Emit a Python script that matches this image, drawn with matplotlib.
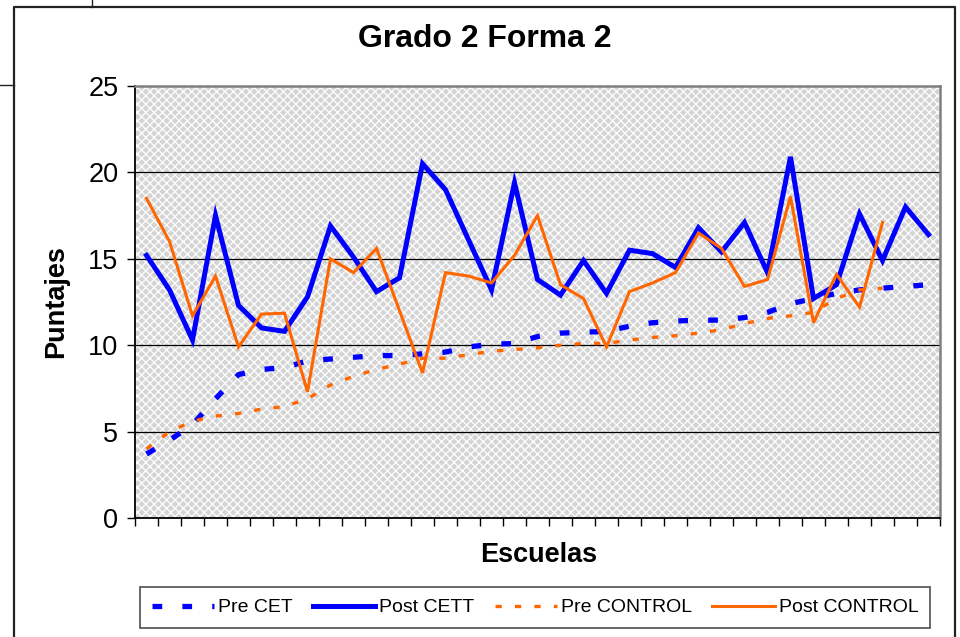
import matplotlib
matplotlib.use("Agg")
import matplotlib.pyplot as plt
from matplotlib.patches import Rectangle
from matplotlib.lines import Line2D
import numpy as np

plt.rcParams['font.family'] = ['Liberation Sans', 'DejaVu Sans']
plt.rcParams['lines.scale_dashes'] = False
plt.rcParams['hatch.color'] = 'white'
plt.rcParams['hatch.linewidth'] = 0.9

title = "Grado 2 Forma 2"
xlabel = "Escuelas"
ylabel = "Puntajes"
series_names = ["Pre CET", "Post CETT", "Pre CONTROL", "Post CONTROL"]

pre_cet = [3.7, 4.5, 5.4, 6.9, 8.3, 8.6, 8.7, 9.1, 9.2, 9.3, 9.4, 9.4, 9.5, 9.6, 9.9,
           10.05, 10.1, 10.5, 10.7, 10.75, 10.8, 11.1, 11.3, 11.4, 11.45, 11.45, 11.6,
           11.9, 12.4, 12.7, 13.0, 13.2, 13.3, 13.4, 13.5]
post_cett = [15.2, 13.2, 10.3, 17.5, 12.3, 11.0, 10.8, 12.8, 16.9, 15.1, 13.1, 13.9,
             20.5, 19.0, 16.1, 13.2, 19.4, 13.8, 12.9, 14.9, 13.0, 15.5, 15.3, 14.5,
             16.8, 15.4, 17.1, 14.2, 20.9, 12.7, 13.5, 17.6, 14.9, 18.0, 16.4]
pre_control = [4.0, 5.0, 5.6, 5.9, 6.05, 6.3, 6.45, 6.9, 7.7, 8.2, 8.6, 8.9, 9.25, 9.25,
               9.45, 9.65, 9.75, 9.85, 10.0, 10.1, 10.1, 10.3, 10.45, 10.55, 10.7, 10.9,
               11.25, 11.55, 11.7, 11.9, 12.7, 13.2, 13.3]
post_control = [18.5, 16.0, 11.7, 14.0, 9.9, 11.8, 11.85, 7.3, 15.0, 14.2, 15.6, 12.0,
                8.4, 14.2, 14.0, 13.6, 15.2, 17.5, 13.5, 12.7, 9.9, 13.1, 13.6, 14.2,
                16.5, 15.6, 13.4, 13.8, 18.6, 11.3, 14.1, 12.2, 17.1]
yticks = [0, 5, 10, 15, 20, 25]

n_cat = 35
BLUE = '#0000FF'
ORANGE = '#FF6600'

fig = plt.figure(figsize=(9.6, 6.37), dpi=100)
W, H = 960, 637

def fx(px):
    return px / W

def fy(py):
    return 1 - py / H

# outer chart border and document lines
fig.add_artist(Line2D([fx(14), fx(14), fx(955), fx(955)], [fy(640), fy(7), fy(7), fy(640)],
                      transform=fig.transFigure, color='#222222', lw=1.6))
fig.add_artist(Line2D([fx(92), fx(92)], [fy(0), fy(7)], transform=fig.transFigure,
                      color='#222222', lw=1.0))
fig.add_artist(Line2D([fx(0), fx(14)], [fy(85), fy(85)], transform=fig.transFigure,
                      color='#222222', lw=1.0))

ax = fig.add_axes([fx(135), fy(518), fx(940) - fx(135), (518 - 86) / H])
ax.set_facecolor('#d4d4d4')
ax.add_patch(Rectangle((0, 0), 1, 1, transform=ax.transAxes, facecolor='#d4d4d4',
                       edgecolor='white', hatch='xxxx', lw=0, zorder=0))

x_all = np.arange(n_cat) + 0.5
x_pre = x_all[:len(pre_cet)]
x_post = x_all[:len(post_cett)]
x_pc = x_all[:len(pre_control)]
x_poc = x_all[:len(post_control)]

for yv in yticks[1:-1]:
    ax.axhline(yv, color='black', lw=0.9, zorder=1)

l1, = ax.plot(x_pre, pre_cet, color=BLUE, lw=3.8, zorder=3, solid_capstyle='butt',
              dash_capstyle='butt', label=series_names[0])
l1.set_dashes([7, 14.5])
l2, = ax.plot(x_post, post_cett, color=BLUE, lw=3.6, zorder=4, label=series_names[1],
              solid_joinstyle='miter')
l3, = ax.plot(x_pc, pre_control, color=ORANGE, lw=2.4, zorder=3, label=series_names[2],
              dash_capstyle='butt')
l3.set_dashes([4.5, 9.5])
l4, = ax.plot(x_poc, post_control, color=ORANGE, lw=2.2, zorder=5, label=series_names[3],
              solid_joinstyle='miter')

ax.set_xlim(0, n_cat)
ax.set_ylim(0, 25)
ax.set_xticks(np.arange(n_cat + 1))
ax.set_xticklabels([])
ax.set_yticks(yticks)
ax.set_yticklabels([str(v) for v in yticks], fontsize=19.5)
ax.tick_params(axis='both', direction='out', length=6, width=1.0, color='black', pad=6)

for side in ['left', 'bottom']:
    ax.spines[side].set_color('black')
    ax.spines[side].set_linewidth(1.3)
for side in ['top', 'right']:
    ax.spines[side].set_color('#808080')
    ax.spines[side].set_linewidth(1.8)

fig.text(fx(485), fy(39), title, ha='center', va='center', fontsize=23, fontweight='bold')
fig.text(fx(539), fy(555), xlabel, ha='center', va='center', fontsize=19.5, fontweight='bold')
fig.text(fx(56), fy(302), ylabel, ha='center', va='center', fontsize=19.5, fontweight='bold',
         rotation=90)

leg = fig.legend(handles=[l1, l2, l3, l4], loc='center', ncol=4,
                 bbox_to_anchor=(fx(140), fy(633), fx(930) - fx(140), (633 - 582) / H),
                 bbox_transform=fig.transFigure, mode='expand', fontsize=14,
                 frameon=True, fancybox=False, handlelength=3.2, handletextpad=0.2,
                 columnspacing=0.9, borderaxespad=0, borderpad=0.6)
leg.get_frame().set_edgecolor('#333333')
leg.get_frame().set_linewidth(1.3)

fig.savefig('out.png', dpi=100)
